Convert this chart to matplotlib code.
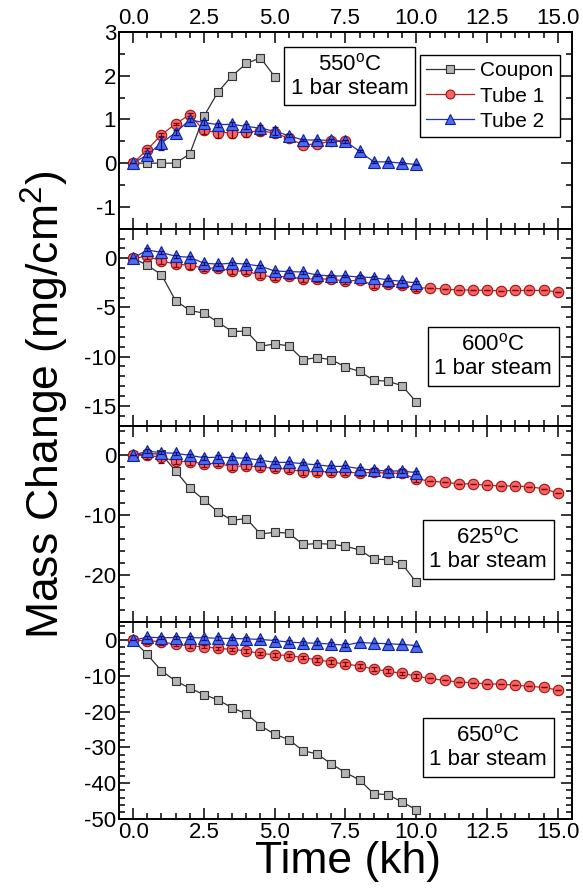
import matplotlib
matplotlib.use("Agg")
import matplotlib.pyplot as plt
from matplotlib.ticker import MultipleLocator

plt.rcParams['font.family'] = ['Liberation Sans', 'DejaVu Sans']
plt.rcParams['mathtext.fontset'] = 'custom'
plt.rcParams['mathtext.rm'] = 'Liberation Sans'
plt.rcParams['axes.unicode_minus'] = False

# time points (kh)
t_coupon_550 = [0.0, 0.5, 1.0, 1.5, 2.0, 2.5, 3.0, 3.5, 4.0, 4.5, 5.0]
t_tube1_550 = [0.0, 0.5, 1.0, 1.5, 2.0, 2.5, 3.0, 3.5, 4.0, 4.5, 5.0, 5.5, 6.0, 6.5, 7.0, 7.5]
t_10kh = [0.0, 0.5, 1.0, 1.5, 2.0, 2.5, 3.0, 3.5, 4.0, 4.5, 5.0, 5.5, 6.0, 6.5, 7.0, 7.5,
          8.0, 8.5, 9.0, 9.5, 10.0]
t_15kh = [0.0, 0.5, 1.0, 1.5, 2.0, 2.5, 3.0, 3.5, 4.0, 4.5, 5.0, 5.5, 6.0, 6.5, 7.0, 7.5,
          8.0, 8.5, 9.0, 9.5, 10.0, 10.5, 11.0, 11.5, 12.0, 12.5, 13.0, 13.5, 14.0, 14.5, 15.0]

# 550 C
coupon_550 = [0, 0, 0, 0, 0.21, 1.07, 1.63, 2.0, 2.28, 2.41, 1.98]
tube1_550 = [0, 0.31, 0.65, 0.90, 1.11, 0.75, 0.70, 0.70, 0.71, 0.74, 0.69, 0.57, 0.42, 0.44, 0.50, 0.50]
tube1_550_err = [0, 0.03, 0.04, 0.03, 0.03, 0.08, 0.12, 0.12, 0.1, 0.09, 0.1, 0.03, 0.03, 0.03, 0.03, 0.03]
tube2_550 = [0, 0.19, 0.46, 0.70, 0.99, 0.93, 0.88, 0.89, 0.84, 0.80, 0.73, 0.63, 0.53, 0.53, 0.52,
             0.50, 0.27, 0.03, 0.03, 0.0, -0.03]
tube2_550_err = [0, 0.05, 0.17, 0.05, 0.05, 0.05, 0.05, 0.05, 0.05, 0.07, 0.09, 0.04, 0.03, 0.03, 0.03,
                 0.03, 0.02, 0.02, 0.02, 0.02, 0.02]

# 600 C
coupon_600 = [0, -0.7, -1.67, -4.3, -5.3, -5.58, -6.5, -7.45, -7.4, -8.95, -8.7, -8.9, -10.3, -10.1,
              -10.3, -11.05, -11.5, -12.4, -12.5, -12.95, -14.6]
tube1_600 = [0, 0.2, -0.27, -0.6, -0.7, -1.0, -1.0, -1.3, -1.3, -1.73, -1.9, -1.84, -2.14, -2.07,
             -2.14, -2.3, -2.25, -2.69, -2.65, -2.69, -3.0, -3.03, -3.13, -3.23, -3.23, -3.27, -3.3,
             -3.27, -3.27, -3.27, -3.4]
tube1_600_err = [0, 0.3, 0.3, 0.3, 0.4, 0.3, 0.3, 0.3, 0.3, 0.3, 0.3, 0.3, 0.3, 0.3, 0.3, 0.3, 0.3,
                 0.3, 0.3, 0.3, 0.3, 0, 0, 0, 0, 0, 0, 0, 0, 0, 0]
tube2_600 = [0, 0.85, 0.6, 0.2, 0.1, -0.5, -0.6, -0.5, -0.6, -0.8, -1.3, -1.35, -1.4, -1.7, -1.8,
             -1.8, -1.9, -1.97, -2.2, -2.35, -2.5]
tube2_600_err = [0, 0.15, 0.15, 0.15, 0.15, 0.15, 0.15, 0.15, 0.15, 0.15, 0.15, 0.15, 0.15, 0.15,
                 0.15, 0.15, 0.15, 0.15, 0.15, 0.15, 0.15]

# 625 C
coupon_625 = [0, 0.3, 0.2, -2.6, -5.5, -7.45, -9.5, -10.9, -10.6, -13.2, -12.9, -13.05, -14.95,
              -14.8, -14.9, -15.25, -15.85, -17.4, -17.5, -18.2, -21.3]
tube1_625 = [0, 0, -0.3, -1.0, -1.06, -1.4, -1.35, -1.9, -1.74, -2.0, -2.13, -2.35, -2.75, -2.75,
             -2.75, -2.8, -2.97, -2.86, -3.0, -3.0, -3.98, -4.3, -4.54, -4.76, -4.8, -5.04, -5.1,
             -5.15, -5.27, -5.6, -6.33]
tube1_625_err = [0, 0.6, 1.0, 0.5, 0.5, 0.5, 0.5, 0.5, 0.5, 0.5, 0.5, 0.5, 0.5, 0.5, 0.5, 0.5, 0.5,
                 0.5, 0.5, 0.5, 0.5, 0, 0, 0, 0, 0, 0, 0, 0, 0, 0]
tube2_625 = [0, 0.7, 0.45, 0.34, 0, -0.4, -0.3, -0.4, -0.5, -0.8, -1.18, -1.18, -1.4, -1.6, -1.85,
             -1.85, -2.24, -2.5, -2.63, -2.63, -2.9]
tube2_625_err = [0, 0.3, 0.3, 0.3, 0.3, 0.3, 0.3, 0.3, 0.3, 0.3, 0.3, 0.3, 0.3, 0.3, 0.3, 0.3, 0.3,
                 0.3, 0.3, 0.3, 0.3]

# 650 C
coupon_650 = [0, -4.0, -8.56, -11.4, -13.4, -15.2, -16.7, -18.9, -20.6, -23.9, -26.3, -27.8, -30.9,
              -31.8, -34.6, -37.0, -39.1, -42.9, -43.2, -45.2, -47.4]
tube1_650 = [0, -0.2, -0.4, -1.2, -1.6, -1.8, -2.3, -2.6, -3.0, -3.7, -4.1, -4.3, -4.9, -5.5, -6.1,
             -6.7, -7.2, -8.1, -8.65, -9.3, -10.05, -10.7, -11.25, -11.7, -11.9, -12.2, -12.3,
             -12.6, -12.9, -13.2, -13.95]
tube1_650_err = [0, 0.8, 1.0, 0.5, 0.5, 0.5, 0.5, 0.5, 0.5, 0.5, 0.5, 0.5, 0.5, 0.5, 0.5, 0.5, 0.5,
                 0.5, 0.5, 0.5, 0.5, 0, 0, 0, 0, 0, 0, 0, 0, 0, 0]
tube2_650 = [0, 0.8, 0.7, 0.7, 0.7, 0.65, 0.55, 0.45, 0.37, 0.2, -0.1, -0.55, -0.75, -0.85, -1.1,
             -1.4, -0.65, -0.85, -1.0, -1.2, -1.5]
tube2_650_err = [0, 0.5, 0.5, 0.5, 0.5, 0.5, 0.5, 0.5, 0.5, 0.5, 0.5, 0.5, 0.5, 0.5, 0.5, 0.5, 0,
                 0, 0, 0, 0]

panels = [
    ("550", t_coupon_550, coupon_550, t_tube1_550, tube1_550, tube1_550_err,
     t_10kh, tube2_550, tube2_550_err),
    ("600", t_10kh, coupon_600, t_15kh, tube1_600, tube1_600_err, t_10kh, tube2_600, tube2_600_err),
    ("625", t_10kh, coupon_625, t_15kh, tube1_625, tube1_625_err, t_10kh, tube2_625, tube2_625_err),
    ("650", t_10kh, coupon_650, t_15kh, tube1_650, tube1_650_err, t_10kh, tube2_650, tube2_650_err),
]
ylims = [(-1.5, 3), (-17, 3), (-28, 5), (-50, 5)]
ymajor = [1, 5, 10, 10]
yminor = [0.5, 1, 2, 2]
label_pos = [(0.51, 0.776), (0.826, 0.352), (0.815, 0.371), (0.815, 0.365)]

fig, axes = plt.subplots(4, 1, figsize=(5.83, 8.89), dpi=100, sharex=True,
                         gridspec_kw=dict(hspace=0))
fig.subplots_adjust(left=0.204, right=0.981, top=0.964, bottom=0.0787)

for i, ax in enumerate(axes):
    temp, tc, yc, t1, y1, e1, t2, y2, e2 = panels[i]

    ln_c, = ax.plot(tc, yc, color='#303030', lw=0.9, marker='s', ms=6,
                    mfc='#b4b4b4', mec='#303030', mew=0.8, label='Coupon', zorder=3)
    ln_1, = ax.plot(t1, y1, color='#c02020', lw=0.9, marker='o', ms=7.5,
                    mfc='#f26666', mec='#a01010', mew=0.8, label='Tube 1', zorder=4)
    # error bars sit on top of the markers, as in the original
    ax.errorbar(t1, y1, yerr=e1, fmt='none', ecolor='#8a0000', elinewidth=0.9,
                capsize=2.5, capthick=0.9, zorder=4.5)
    ln_2, = ax.plot(t2, y2, color='#2030c0', lw=0.9, marker='^', ms=8,
                    mfc='#4a6cf0', mec='#1020a0', mew=0.8, label='Tube 2', zorder=5)
    ax.errorbar(t2, y2, yerr=e2, fmt='none', ecolor='#101080', elinewidth=0.9,
                capsize=2.5, capthick=0.9, zorder=5.5)

    ax.set_xlim(-0.5, 15.5)
    ax.set_ylim(*ylims[i])
    ax.xaxis.set_major_locator(MultipleLocator(2.5))
    ax.xaxis.set_minor_locator(MultipleLocator(0.5))
    ax.yaxis.set_major_locator(MultipleLocator(ymajor[i]))
    ax.yaxis.set_minor_locator(MultipleLocator(yminor[i]))
    ax.xaxis.set_major_formatter(plt.FormatStrFormatter('%.1f'))

    ax.tick_params(which='both', direction='in', top=True, right=True, width=1.1,
                   labelsize=16, pad=2)
    ax.tick_params(which='major', length=8)
    ax.tick_params(which='minor', length=4)
    ax.tick_params(axis='x', labelbottom=(i == 3), labeltop=(i == 0))
    for s in ax.spines.values():
        s.set_linewidth(1.4)

    ax.text(label_pos[i][0], label_pos[i][1], temp + r'$^{\mathrm{o}}$C' + '\n1 bar steam',
            transform=ax.transAxes, ha='center', va='center', fontsize=16,
            multialignment='center', linespacing=1.15,
            bbox=dict(boxstyle='square,pad=0.3', fc='white', ec='black', lw=1))

    if i == 0:
        leg = ax.legend(handles=[ln_c, ln_1, ln_2], loc='upper right',
                        bbox_to_anchor=(0.9735, 0.883), fontsize=15, fancybox=False,
                        edgecolor='black', framealpha=1, handlelength=2.3,
                        handletextpad=0.3, labelspacing=0.3, borderpad=0.3,
                        borderaxespad=0, markerscale=0.85)
        leg.get_frame().set_linewidth(1)

fig.text(0.077, 1 - 405 / 889, r'Mass Change (mg/cm$^2$)', rotation=90,
         ha='center', va='center', fontsize=32)
fig.text(348 / 583, 1 - 862 / 889, 'Time (kh)', ha='center', va='center', fontsize=32)

fig.savefig('out.png', dpi=100)
